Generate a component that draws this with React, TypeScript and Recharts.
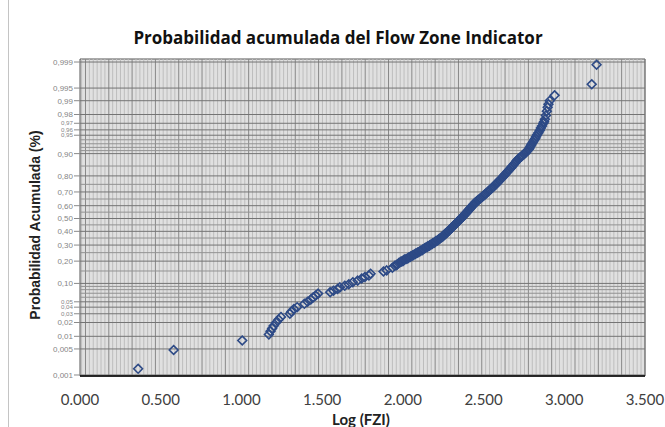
import React from 'react';
import { ScatterChart, Scatter, XAxis, YAxis, ReferenceLine, ReferenceArea, CartesianGrid } from 'recharts';

// Log(FZI) values and cumulative probability
const fzi = [
  0.36, 0.58, 1.005, 1.17, 1.18, 1.19, 1.2, 1.215, 1.23, 1.245,
  1.3, 1.31, 1.325, 1.345, 1.39, 1.41, 1.43, 1.445, 1.46, 1.475,
  1.55, 1.57, 1.595, 1.61, 1.64, 1.665, 1.69, 1.72, 1.745, 1.765,
  1.79, 1.8, 1.88, 1.9, 1.935, 1.95, 1.965, 1.975, 1.99, 2.005,
  2.02, 2.035, 2.05, 2.065, 2.08, 2.095, 2.11, 2.125, 2.14, 2.155,
  2.17, 2.185, 2.2, 2.215, 2.225, 2.24, 2.25, 2.26, 2.27, 2.28,
  2.29, 2.3, 2.31, 2.32, 2.33, 2.34, 2.35, 2.36, 2.37, 2.38,
  2.39, 2.4, 2.41, 2.42, 2.43, 2.44, 2.45, 2.465, 2.48, 2.495,
  2.51, 2.525, 2.54, 2.555, 2.57, 2.585, 2.6, 2.615, 2.63, 2.645,
  2.66, 2.675, 2.69, 2.705, 2.72, 2.735, 2.75, 2.765, 2.78, 2.79,
  2.8, 2.815, 2.825, 2.84, 2.855, 2.87, 2.88, 2.886, 2.892, 2.897,
  2.902, 2.91, 2.94, 3.17, 3.2,
];
const probAcum = [
  0.0015, 0.0047, 0.008, 0.011, 0.013, 0.015, 0.017, 0.02, 0.023, 0.026,
  0.03, 0.033, 0.037, 0.04, 0.046, 0.05, 0.055, 0.06, 0.064, 0.069,
  0.073, 0.077, 0.082, 0.087, 0.092, 0.097, 0.104, 0.11, 0.118, 0.124,
  0.13, 0.138, 0.148, 0.153, 0.165, 0.175, 0.182, 0.19, 0.198, 0.205,
  0.212, 0.22, 0.228, 0.236, 0.245, 0.253, 0.262, 0.272, 0.282, 0.292,
  0.302, 0.312, 0.322, 0.333, 0.343, 0.355, 0.366, 0.377, 0.389, 0.4,
  0.412, 0.424, 0.437, 0.449, 0.462, 0.475, 0.488, 0.501, 0.514, 0.527,
  0.541, 0.555, 0.569, 0.584, 0.598, 0.612, 0.626, 0.64, 0.655, 0.67,
  0.685, 0.7, 0.715, 0.73, 0.745, 0.76, 0.775, 0.79, 0.805, 0.819,
  0.833, 0.847, 0.86, 0.873, 0.883, 0.89, 0.898, 0.906, 0.914, 0.923,
  0.931, 0.94, 0.947, 0.955, 0.963, 0.97, 0.975, 0.979, 0.983, 0.986,
  0.988, 0.99, 0.9925, 0.996, 0.9988,
];
// further samples of the dense part of the band
const fziDense = [
  1.96, 1.985, 2.0, 2.01, 2.03, 2.045, 2.06, 2.075, 2.09, 2.105,
  2.12, 2.135, 2.15, 2.165, 2.18, 2.195, 2.205, 2.22, 2.232, 2.245,
  2.255, 2.265, 2.275, 2.285, 2.295, 2.305, 2.315, 2.325, 2.335, 2.345,
  2.355, 2.365, 2.375, 2.385, 2.395, 2.405, 2.415, 2.425, 2.435, 2.447,
  2.458, 2.472, 2.488, 2.503, 2.518, 2.532, 2.548, 2.562, 2.578, 2.592,
  2.607, 2.622, 2.637, 2.652, 2.668, 2.683, 2.698, 2.712, 2.728, 2.742,
  2.758, 2.772, 2.785, 2.795, 2.808, 2.82, 2.832, 2.848, 2.862, 2.875,
];
const probDense = [
  0.178, 0.195, 0.2, 0.209, 0.215, 0.224, 0.233, 0.24, 0.25, 0.257,
  0.266, 0.278, 0.286, 0.296, 0.306, 0.317, 0.328, 0.338, 0.349, 0.36,
  0.372, 0.383, 0.394, 0.406, 0.418, 0.43, 0.443, 0.455, 0.468, 0.481,
  0.494, 0.507, 0.52, 0.534, 0.548, 0.562, 0.576, 0.591, 0.605, 0.619,
  0.633, 0.647, 0.662, 0.677, 0.692, 0.707, 0.722, 0.737, 0.752, 0.767,
  0.782, 0.797, 0.812, 0.826, 0.84, 0.853, 0.866, 0.878, 0.887, 0.894,
  0.902, 0.91, 0.918, 0.927, 0.935, 0.943, 0.951, 0.959, 0.966, 0.972,
];

const xTicks = [0, 0.5, 1, 1.5, 2, 2.5, 3, 3.5];
const yTickProbs = [0.999, 0.995, 0.99, 0.98, 0.97, 0.96, 0.95, 0.9, 0.8, 0.7, 0.6, 0.5, 0.4, 0.3, 0.2, 0.1, 0.05, 0.04, 0.03, 0.02, 0.01, 0.005, 0.001];
const yTickLabels = ['0,999', '0,995', '0,99', '0,98', '0,97', '0,96', '0,95', '0,90', '0,80', '0,70', '0,60', '0,50', '0,40', '0,30', '0,20', '0,10', '0,05', '0,04', '0,03', '0,02', '0,01', '0,005', '0,001'];
const crowdedLabels = ['0,97', '0,96', '0,95', '0,05', '0,04', '0,03'];
const minorProbs = [0.94, 0.93, 0.92, 0.91, 0.85, 0.75, 0.65, 0.55, 0.45, 0.35, 0.25, 0.15, 0.09, 0.08, 0.07, 0.06];

// inverse normal CDF (probability-paper scale)
function probit(p: number): number {
  const a = [-3.969683028665376e1, 2.209460984245205e2, -2.759285104469687e2, 1.38357751867269e2, -3.066479806614716e1, 2.506628277459239];
  const b = [-5.447609879822406e1, 1.615858368580409e2, -1.556989798598866e2, 6.680131188771972e1, -1.328068155288572e1];
  const c = [-7.784894002430293e-3, -3.223964580411365e-1, -2.400758277161838, -2.549671664603815, 4.374664141464968, 2.938163982698783];
  const d = [7.784695709041462e-3, 3.224671290700398e-1, 2.445134137142996, 3.754408661907416];
  const pl = 0.02425;
  if (p < pl) {
    const q = Math.sqrt(-2 * Math.log(p));
    return (((((c[0] * q + c[1]) * q + c[2]) * q + c[3]) * q + c[4]) * q + c[5]) / ((((d[0] * q + d[1]) * q + d[2]) * q + d[3]) * q + 1);
  }
  if (p <= 1 - pl) {
    const q = p - 0.5;
    const r = q * q;
    return ((((((a[0] * r + a[1]) * r + a[2]) * r + a[3]) * r + a[4]) * r + a[5]) * q) / (((((b[0] * r + b[1]) * r + b[2]) * r + b[3]) * r + b[4]) * r + 1);
  }
  const q = Math.sqrt(-2 * Math.log(1 - p));
  return -(((((c[0] * q + c[1]) * q + c[2]) * q + c[3]) * q + c[4]) * q + c[5]) / ((((d[0] * q + d[1]) * q + d[2]) * q + d[3]) * q + 1);
}

const data = [
  ...fzi.map((x, i) => ({ x, z: probit(probAcum[i]) })),
  ...fziDense.map((x, i) => ({ x, z: probit(probDense[i]) })),
];
const yTicks = yTickProbs.map(probit);
const Y_DOMAIN: [number, number] = [-3.11, 3.15];

const vMajor: number[] = [];
const vMinor: number[] = [];
for (let k = 0; k < 25; k++) {
  const base = 0.034 + k * 0.1444;
  if (base <= 3.5) vMajor.push(base);
  for (let j = 1; j < 6; j++) {
    const v = base + j * 0.02407;
    if (v < 3.5) vMinor.push(v);
  }
}
vMinor.push(0.01);

const Diamond = (props: any) => {
  const { cx, cy } = props;
  if (cx == null || cy == null) return null;
  const r = 4.4;
  return (
    <polygon
      points={`${cx},${cy - r} ${cx + r},${cy} ${cx},${cy + r} ${cx - r},${cy}`}
      fill="none"
      stroke="#2D4A86"
      strokeWidth={1.6}
    />
  );
};

const yLabelOf = (v: number) => {
  const i = yTicks.findIndex((t) => Math.abs(t - v) < 1e-6);
  return i >= 0 ? yTickLabels[i] : '';
};

const YTick = (props: any) => {
  const { x, y, payload } = props;
  const label = yLabelOf(payload.value);
  const small = crowdedLabels.includes(label);
  return (
    <text
      x={x}
      y={y}
      dy={small ? 2.2 : 2.9}
      textAnchor="end"
      fontFamily="Liberation Sans"
      fontSize={small ? 6.2 : 8}
      fill="#858585"
    >
      {label}
    </text>
  );
};

export default function App() {
  return (
    <div style={{ position: 'fixed', left: 0, top: 0, width: 665, height: 427, overflow: 'hidden', background: '#fff' }}>
      <div style={{ position: 'absolute', left: 8, top: 0, width: 1, height: 427, background: '#c4c4c4' }} />
      <div
        style={{
          position: 'absolute', left: 10, top: 28, width: 656, textAlign: 'center',
          fontFamily: 'Open Sans', fontWeight: 700, fontSize: 17, lineHeight: '20px', color: '#111',
        }}
      >
        Probabilidad acumulada del Flow Zone Indicator
      </div>
      <div
        style={{
          position: 'absolute', left: -95, top: 216, width: 260, height: 18, lineHeight: '18px',
          textAlign: 'center', transform: 'rotate(-90deg)', fontFamily: 'Liberation Sans',
          fontWeight: 700, fontSize: 14, color: '#222', whiteSpace: 'nowrap',
        }}
      >
        Probabilidad Acumulada (%)
      </div>
      <div
        style={{
          position: 'absolute', left: 261, top: 411, width: 200, height: 16, lineHeight: '16px',
          textAlign: 'center', fontFamily: 'Lato', fontWeight: 700, fontSize: 15, color: '#222',
        }}
      >
        Log (FZI)
      </div>
      <ScatterChart width={665} height={427} margin={{ top: 59, right: 0, bottom: 21, left: 0 }}>
        <CartesianGrid horizontal={false} vertical={false} fill="#e0e0e0" />
        {vMinor.map((v, i) => (
          <ReferenceLine key={'vm' + i} x={v} stroke="#bdbdbd" strokeWidth={1} />
        ))}
        {vMajor.map((v, i) => (
          <ReferenceLine key={'vM' + i} x={v} stroke="#888" strokeWidth={1} />
        ))}
        {minorProbs.map((p, i) => (
          <ReferenceLine key={'hm' + i} y={probit(p)} stroke="#929292" strokeWidth={1} />
        ))}
        {yTicks.map((z, i) => (
          <ReferenceLine key={'hM' + i} y={z} stroke="#747474" strokeWidth={1} />
        ))}
        <ReferenceArea x1={0} x2={3.5} y1={Y_DOMAIN[0]} y2={Y_DOMAIN[1]} fill="none" stroke="#555" strokeWidth={1} />
        <XAxis
          type="number"
          dataKey="x"
          domain={[0, 3.5]}
          ticks={xTicks}
          interval={0}
          tickFormatter={(v: number) => v.toFixed(3)}
          height={30}
          tickSize={0}
          tickMargin={18}
          axisLine={{ stroke: '#000', strokeWidth: 1.5 }}
          tick={{ fontFamily: 'Lato', fontSize: 15, fill: '#404040' }}
        />
        <YAxis
          type="number"
          dataKey="z"
          domain={Y_DOMAIN}
          ticks={yTicks}
          interval={0}
          width={80}
          tickSize={6}
          tickMargin={1}
          axisLine={false}
          tickLine={{ stroke: '#8a8a8a' }}
          tick={<YTick />}
        />
        <YAxis
          yAxisId="r"
          orientation="right"
          type="number"
          domain={Y_DOMAIN}
          ticks={yTicks}
          interval={0}
          width={20}
          tickSize={5}
          axisLine={false}
          tickLine={{ stroke: '#8a8a8a' }}
          tick={false}
        />
        <Scatter data={data} shape={Diamond} isAnimationActive={false} />
      </ScatterChart>
    </div>
  );
}
